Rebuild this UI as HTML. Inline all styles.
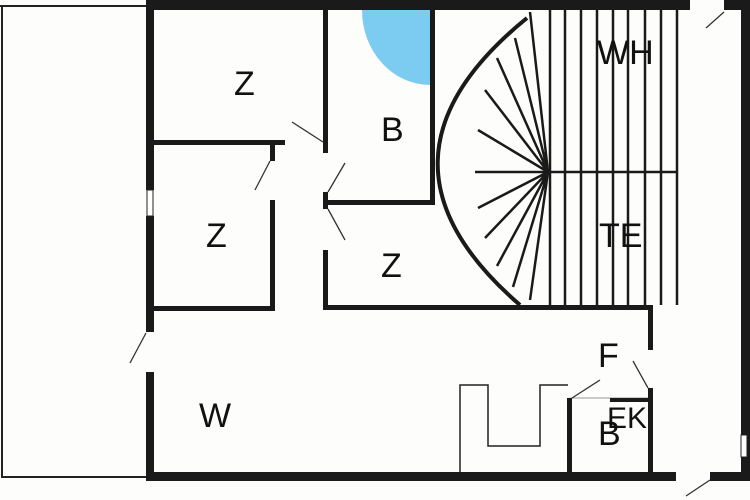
<!DOCTYPE html>
<html><head><style>body{margin:0;background:#fff}svg{display:block}text{font-family:"Liberation Sans",sans-serif;font-size:34px;fill:#111}</style></head><body>
<svg width="750" height="500" viewBox="0 0 750 500" xmlns="http://www.w3.org/2000/svg">
<rect width="750" height="500" fill="#fdfdfb"/>
<g fill="none" stroke="#222" stroke-width="2">
<path d="M0,6 H146 M2,6 V477 H146"/>
<path d="M460,472 V385 H488 V446 H540 V385 H568" stroke-width="1.5"/>
<path d="M570,398 H648" stroke-width="1" stroke="#999"/>
</g>
<path d="M362,10 A68,75 0 0 0 430,85 L430,10 Z" fill="#7ccbf0"/>
<g fill="#1a1a1a">
<rect x="146" y="0" width="544" height="10"/>
<rect x="724" y="0" width="26" height="10"/>
<rect x="741" y="0" width="9" height="481"/>
<rect x="146" y="0" width="8" height="190"/>
<rect x="146" y="216" width="8" height="116"/>
<rect x="146" y="372" width="8" height="109"/>
<rect x="146" y="472" width="530" height="9"/>
<rect x="710" y="472" width="40" height="9"/>
<rect x="323" y="10" width="5" height="143"/>
<rect x="323" y="192" width="5" height="17"/>
<rect x="323" y="250" width="5" height="60"/>
<rect x="154" y="140" width="131" height="5"/>
<rect x="270" y="145" width="5" height="16"/>
<rect x="270" y="200" width="5" height="111"/>
<rect x="154" y="306" width="121" height="5"/>
<rect x="323" y="305" width="330" height="5"/>
<rect x="430" y="10" width="5" height="195"/>
<rect x="328" y="200" width="107" height="5"/>
<rect x="648" y="305" width="5" height="45"/>
<rect x="648" y="388" width="5" height="84"/>
<rect x="567" y="398" width="5" height="74"/>
<rect x="610" y="398" width="40" height="4"/>
</g>
<rect x="741" y="435" width="6" height="22" fill="#fff" stroke="#222" stroke-width="1"/>
<rect x="147" y="190" width="6" height="26" fill="#fff" stroke="#222" stroke-width="1"/>
<g stroke="#333" stroke-width="1.3" fill="none">
<path d="M706,28 L724,12 M686,496 L710,480 M130,363 L146,333 M292,122 L323,142 M255,190 L270,161 M345,163 L328,192 M345,240 L328,209 M600,380 L572,398 M633,361 L648,388"/>
</g>
<g stroke="#1a1a1a" fill="none">
<path d="M527,18 Q352,160 520,305" stroke-width="4"/>
<path d="M550,10 V305 M565,10 V305 M581,10 V305 M597,10 V305 M613,10 V305 M628,10 V305 M645,10 V305 M661,10 V305 M677,10 V305" stroke-width="2.5"/>
<path d="M475,172 H677" stroke-width="2.5"/>
<path d="M548,172 L530,12 M548,172 L515,38 M548,172 L497,58 M548,172 L485,90 M548,172 L478,130 M548,172 L478,208 M548,172 L485,238 M548,172 L497,266 M548,172 L513,287 M548,172 L530,300" stroke-width="2.5"/>
</g>
<text x="234" y="95">Z</text>
<text x="381" y="141">B</text>
<text x="206" y="247">Z</text>
<text x="381" y="277">Z</text>
<text x="597" y="64">WH</text>
<text x="599" y="247">TE</text>
<text x="598" y="367">F</text>
<text x="199" y="427">W</text>
<text x="598" y="445">B</text>
<text x="607" y="428" style="font-size:30px">EK</text>
</svg>
</body></html>
